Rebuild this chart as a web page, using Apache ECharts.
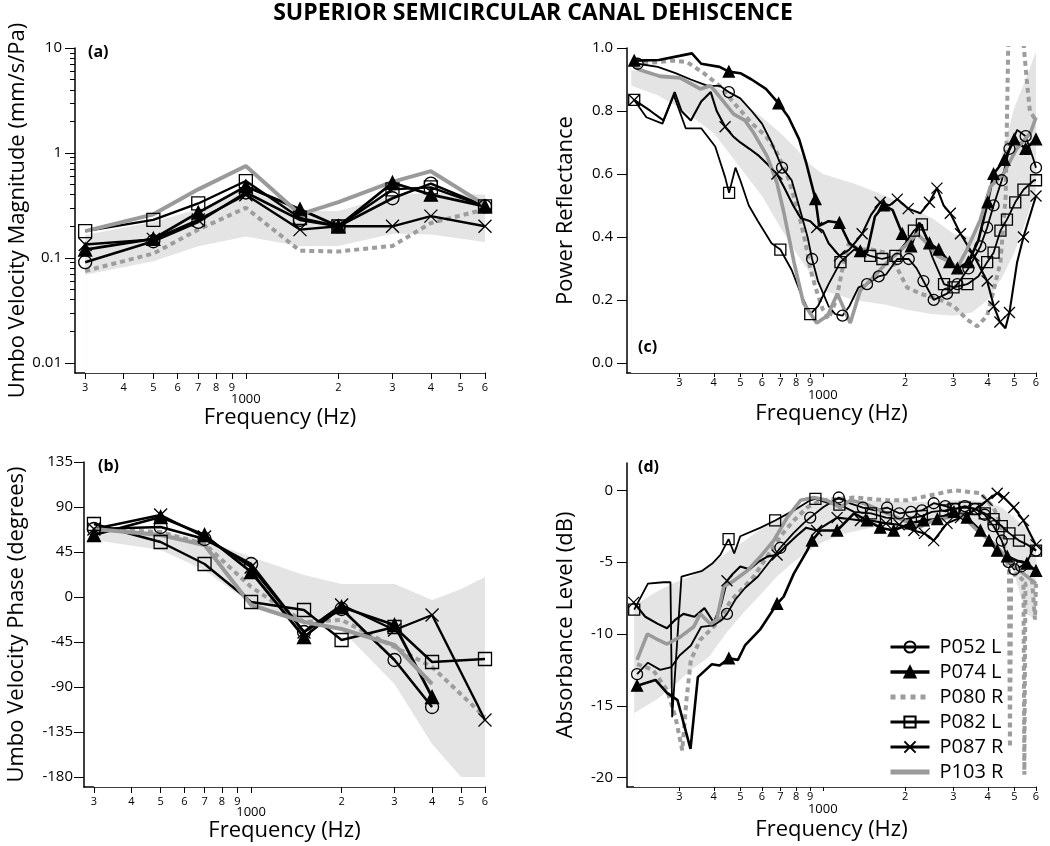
<!DOCTYPE html>
<html><head><meta charset="utf-8">
<script src="https://cdn.jsdelivr.net/npm/echarts@6/dist/echarts.min.js"></script>
<style>html,body{margin:0;padding:0;background:#fff}#c{width:1050px;height:846px}</style>
</head><body><div id="c"></div>
<script>
// ---------------- DATA ----------------
const seriesNames = ['P052 L','P074 L','P080 R','P082 L','P087 R','P103 R'];
const xTickFreqs = [300,400,500,600,700,800,900,1000,2000,3000,4000,5000,6000];

// (a) Umbo velocity magnitude (mm/s/Pa)
const freqAB = [300, 500, 700, 1000, 1500, 2000, 3000, 4000, 6000];
const magP052 = [0.091, 0.144, 0.22, 0.42, 0.23, 0.20, 0.37, 0.51, 0.31];
const magP074 = [0.12, 0.152, 0.27, 0.48, 0.29, 0.20, 0.52, 0.40, 0.31];
const magP080 = [0.075, 0.11, 0.186, 0.30, 0.117, 0.115, 0.13, 0.215, 0.29];
const magP082 = [0.18, 0.23, 0.33, 0.54, 0.24, 0.20, 0.45, 0.47, 0.31];
const magP087 = [0.134, 0.15, 0.23, 0.40, 0.186, 0.20, 0.20, 0.25, 0.20];
const magP103 = [0.18, 0.26, 0.45, 0.75, 0.26, 0.34, 0.53, 0.67, 0.32];
const magBandLow  = [0.069, 0.093, 0.129, 0.16, 0.129, 0.13, 0.17, 0.167, 0.142];
const magBandHigh = [0.165, 0.22, 0.29, 0.45, 0.28, 0.28, 0.39, 0.42, 0.40];

// (b) Umbo velocity phase (degrees)
const phP052 = [68, 70, 58, 33, -35, -12, -63, -110];
const phP074 = [62, 80, 62, 25, -40, -10, -28, -100];
const phP080 = [68, 65, 53, 10, -25, -23, -50, -70, -120];
const phP082 = [73, 55, 33, -5, -13, -43, -30, -65, -62];
const phP087 = [68, 82, 60, 30, -35, -8, -33, -18, -123];
const phP103 = [68, 62, 52, -8, -25, -32, -48, -87];
const phBandFreq = [300, 500, 700, 1000, 1500, 2000, 3000, 4000, 5000, 6000];
const phBandHigh = [68, 66, 57, 40, 22, 13, 13, -3, 8, 20];
const phBandLow  = [57, 47, 27, -7, -25, -33, -87, -147, -180, -180];

// (c) Power reflectance  [frequency Hz, value]
const rfP052 = [[211,0.95],[250,0.94],[290,0.92],[330,0.9],[380,0.88],[420,0.88],[454,0.86],[500,0.84],[550,0.8],[600,0.76],[650,0.7],[710,0.62],[770,0.58],[830,0.48],[880,0.4],[914,0.33],[960,0.26],[1050,0.18],[1110,0.155],[1180,0.15],[1250,0.18],[1350,0.24],[1450,0.25],[1600,0.275],[1700,0.28],[1870,0.33],[2060,0.33],[2200,0.3],[2330,0.26],[2540,0.2],[2840,0.22],[3100,0.25],[3400,0.3],[3760,0.37],[3980,0.43],[4200,0.5],[4500,0.58],[4800,0.68],[5120,0.74],[5500,0.72],[5880,0.645],[6000,0.62]];
const rfP074 = [[205,0.96],[252,0.962],[300,0.975],[333,0.983],[360,0.95],[420,0.94],[454,0.925],[500,0.92],[550,0.9],[620,0.87],[690,0.824],[750,0.78],[820,0.71],[870,0.635],[940,0.52],[970,0.435],[1050,0.45],[1150,0.445],[1250,0.38],[1370,0.355],[1450,0.35],[1550,0.465],[1670,0.5],[1800,0.485],[1950,0.41],[2100,0.37],[2250,0.445],[2450,0.38],[2650,0.36],[2900,0.32],[3100,0.3],[3400,0.32],[3700,0.39],[4000,0.51],[4200,0.6],[4600,0.645],[5000,0.71],[5500,0.68],[6000,0.71]];
const rfP080 = [[205,0.95],[250,0.955],[280,0.96],[320,0.955],[368,0.92],[420,0.88],[480,0.82],[552,0.76],[620,0.72],[672,0.676],[740,0.6],[817,0.475],[860,0.39],[900,0.3],[940,0.24],[1000,0.17],[1050,0.14],[1120,0.2],[1180,0.3],[1244,0.38],[1350,0.36],[1500,0.36],[1700,0.35],[1870,0.3],[2030,0.24],[2270,0.22],[2690,0.2],[3010,0.18],[3370,0.137],[3660,0.116],[3980,0.15],[4200,0.23],[4450,0.32],[4650,0.53],[4750,1.0],[4850,1.15],[5300,1.15],[5420,1.0],[5550,0.9],[5700,0.8],[6000,0.77]];
const rfP082 = [[205,0.835],[227,0.78],[260,0.76],[286,0.85],[316,0.745],[360,0.745],[405,0.687],[440,0.59],[455,0.54],[480,0.62],[500,0.58],[537,0.5],[580,0.45],[650,0.38],[700,0.36],[770,0.295],[840,0.21],[900,0.155],[960,0.18],[1050,0.25],[1160,0.32],[1300,0.36],[1490,0.34],[1650,0.33],[1840,0.34],[2000,0.38],[2150,0.42],[2300,0.44],[2500,0.34],[2770,0.25],[3000,0.24],[3370,0.25],[3700,0.275],[3980,0.32],[4200,0.35],[4450,0.42],[4700,0.455],[5040,0.51],[5400,0.55],[5900,0.58],[6000,0.58]];
const rfP087 = [[205,0.835],[235,0.8],[262,0.77],[288,0.86],[305,0.8],[330,0.77],[360,0.83],[390,0.86],[410,0.8],[440,0.75],[470,0.72],[500,0.7],[540,0.68],[580,0.66],[630,0.63],[680,0.6],[720,0.56],[780,0.5],[830,0.46],[900,0.45],[950,0.43],[1000,0.42],[1050,0.38],[1150,0.34],[1250,0.36],[1392,0.41],[1500,0.47],[1620,0.51],[1750,0.5],[1870,0.52],[2050,0.49],[2270,0.475],[2450,0.51],[2610,0.555],[2760,0.5],[2920,0.475],[3180,0.41],[3560,0.34],[3980,0.26],[4210,0.18],[4430,0.13],[4640,0.11],[4800,0.16],[5120,0.32],[5400,0.4],[5900,0.51],[6000,0.53]];
const rfP103 = [[205,0.94],[216,0.93],[255,0.91],[302,0.905],[357,0.87],[389,0.88],[410,0.857],[473,0.79],[520,0.77],[560,0.73],[627,0.656],[681,0.57],[720,0.48],[785,0.32],[850,0.19],[950,0.127],[1040,0.15],[1130,0.22],[1260,0.127],[1370,0.23],[1540,0.275],[1720,0.32],[1990,0.37],[2210,0.41],[2400,0.38],[2620,0.34],[2930,0.32],[3090,0.3],[3360,0.36],[3760,0.455],[4090,0.56],[4560,0.6],[5100,0.68],[5720,0.73],[6000,0.78]];
const rfBandFreq = [200, 250, 300, 400, 500, 600, 700, 800, 900, 1000, 1300, 1700, 2000, 2500, 3000, 3500, 4000, 4500, 5000, 5500, 6000];
const rfBandHigh = [0.93, 0.92, 0.91, 0.88, 0.835, 0.78, 0.73, 0.68, 0.63, 0.60, 0.57, 0.53, 0.50, 0.46, 0.41, 0.40, 0.52, 0.66, 0.81, 0.90, 0.99];
const rfBandLow  = [0.88, 0.85, 0.81, 0.73, 0.62, 0.53, 0.43, 0.35, 0.285, 0.23, 0.20, 0.185, 0.17, 0.155, 0.15, 0.16, 0.20, 0.27, 0.35, 0.45, 0.55];

// (d) Absorbance level (dB)  [frequency Hz, value]
const abP052 = [[210,-12.8],[230,-12.0],[255,-12.5],[280,-12.3],[300,-11.5],[330,-10.8],[360,-9.5],[400,-9.4],[430,-9.0],[447,-8.6],[480,-7.6],[520,-6.8],[580,-6.0],[650,-4.8],[700,-4.0],[780,-3.0],[850,-2.3],[900,-1.9],[1000,-1.2],[1144,-0.5],[1250,-0.9],[1400,-1.2],[1550,-1.4],[1717,-1.2],[1900,-1.6],[2100,-1.5],[2300,-1.4],[2540,-0.9],[2800,-1.1],[3050,-1.3],[3300,-1.1],[3600,-1.3],[3900,-1.7],[4200,-2.5],[4500,-3.5],[4770,-5.0],[5000,-5.5],[5300,-5.3],[5600,-4.9],[5880,-4.0],[6000,-4.2]];
const abP074 = [[210,-13.6],[245,-13.2],[270,-14.1],[295,-14.6],[329,-18.0],[350,-13.0],[394,-12.1],[420,-12.2],[454,-11.7],[490,-11.8],[520,-10.8],[590,-9.7],[681,-7.9],[720,-7.4],[784,-5.8],[877,-4.2],[914,-3.5],[980,-2.8],[1128,-2.8],[1300,-1.6],[1450,-2.1],[1620,-2.6],[1815,-2.8],[2090,-2.3],[2330,-2.1],[2620,-2.0],[3010,-1.5],[3360,-1.9],[3760,-2.8],[4040,-3.5],[4330,-4.2],[4710,-4.6],[5120,-4.9],[5560,-5.1],[6000,-5.6]];
const abP080 = [[210,-12.1],[240,-12.5],[270,-13.9],[290,-15.8],[307,-18.1],[318,-14.6],[330,-11.8],[357,-10.4],[390,-9.7],[423,-9.0],[460,-7.7],[500,-7.0],[560,-6.0],[627,-4.6],[700,-3.2],[784,-2.1],[877,-1.2],[980,-0.7],[1300,-0.5],[1720,-0.7],[2030,-0.7],[2270,-0.5],[3010,0.0],[3760,-0.2],[4200,-1.2],[4450,-2.3],[4650,-4.5],[4780,-5.6],[4820,-17.9],[4870,-6.0],[5100,-5.8],[5400,-6.3],[5440,-19.8],[5490,-6.5],[5800,-6.3],[5950,-9.0],[6000,-6.5]];
const abP082 = [[205,-8.3],[230,-6.5],[262,-6.4],[278,-6.4],[282,-15.8],[305,-6.0],[363,-5.6],[395,-5.1],[423,-4.5],[453,-3.4],[475,-4.4],[500,-3.2],[593,-2.6],[670,-2.1],[784,-1.4],[900,-0.7],[940,-0.6],[1050,-0.9],[1150,-1.0],[1300,-1.5],[1500,-1.6],[1700,-1.9],[2000,-2.0],[2300,-1.8],[2500,-1.5],[2800,-1.4],[3000,-1.3],[3300,-1.2],[3600,-1.3],[3900,-1.6],[4200,-2.0],[4500,-2.5],[4800,-3.0],[5200,-3.5],[5600,-3.8],[6000,-4.2]];
const abP087 = [[204,-7.8],[225,-8.8],[250,-9.3],[270,-9.6],[290,-9.0],[310,-8.6],[340,-8.8],[370,-8.2],[400,-9.2],[425,-8.0],[447,-6.3],[470,-5.8],[500,-5.3],[540,-5.5],[580,-5.0],[630,-4.6],[681,-4.5],[740,-3.8],[800,-3.2],[870,-2.6],[950,-2.8],[1128,-1.9],[1250,-2.0],[1372,-2.1],[1500,-2.1],[1700,-2.3],[1900,-2.4],[2150,-2.8],[2350,-3.0],[2540,-3.5],[2840,-2.3],[3180,-1.9],[3560,-1.4],[3980,-0.7],[4330,-0.2],[4580,-0.5],[4980,-1.2],[5400,-2.1],[5880,-3.5],[6000,-3.8]];
const abP103 = [[210,-11.8],[229,-10.0],[250,-10.4],[270,-10.7],[302,-10.2],[338,-9.5],[357,-8.6],[389,-9.3],[410,-9.0],[435,-6.7],[473,-6.3],[530,-5.6],[593,-4.6],[662,-3.5],[741,-1.9],[830,-0.7],[927,-0.5],[1037,-0.7],[1160,-1.2],[1260,-0.7],[1410,-0.9],[1620,-1.4],[1870,-1.9],[2090,-2.3],[2270,-2.55],[2540,-2.1],[2850,-1.9],[3090,-1.6],[3360,-2.1],[3760,-3.0],[4090,-3.5],[4450,-4.2],[5000,-5.3],[5400,-5.8],[6000,-6.5]];
const abBandFreq = [205, 250, 290, 330, 384, 450, 520, 584, 680, 780, 890, 1000, 1200, 1500, 2000, 2500, 3000, 3500, 4000, 4500, 5000, 5500, 6000];
const abBandHigh = [-8.0, -7.0, -6.4, -6.0, -5.3, -4.3, -3.5, -2.8, -2.1, -1.5, -0.9, -0.8, -0.7, -0.7, -0.8, -0.8, -0.7, -0.7, -0.8, -1.2, -1.9, -2.6, -3.5];
const abBandLow  = [-15.5, -14.5, -13.5, -12.5, -11.6, -9.8, -8.4, -7.4, -6.0, -5.0, -4.2, -3.6, -3.0, -2.6, -2.4, -2.3, -2.1, -2.3, -3.0, -4.0, -5.8, -8.6, -9.0];

// ---------------- BUILD ----------------
const FONT = '"Open Sans", "DejaVu Sans", sans-serif';
const L10 = Math.log10;
const BAND = '#e4e4e4';
const CLEAR = 'rgba(255,255,255,0)';

const styles = {
  'P052 L': {color:'#000', symbol:'circle', fill:CLEAR, marks:true, legendW:3},
  'P074 L': {color:'#000', symbol:'triangle', fill:'#000', marks:true, legendW:3.5},
  'P080 R': {color:'#9d9d9d', symbol:'circle', fill:CLEAR, border:CLEAR, dash:[5,4], marks:false, legendW:5, legendDash:[5,5]},
  'P082 L': {color:'#000', symbol:'rect', fill:CLEAR, marks:true, legendW:3},
  'P087 R': {color:'#000', symbol:'path://M0 0L20 20M20 0L0 20', fill:CLEAR, marks:true, legendW:3},
  'P103 R': {color:'#9a9a9a', symbol:'circle', fill:CLEAR, border:CLEAR, marks:false, legendW:5}
};
const widthAB = {'P052 L':2.6,'P074 L':2.8,'P080 R':4,'P082 L':2.4,'P087 R':2.4,'P103 R':4};
const widthCD = {'P052 L':1.8,'P074 L':2.6,'P080 R':4,'P082 L':1.8,'P087 R':2.1,'P103 R':3.6};
const drawOrder = ['P080 R','P087 R','P082 L','P052 L','P074 L','P103 R'];

function markFlags(freqs) {
  const flags = freqs.map(() => false);
  for (let g = 210; g <= 6100; g += 240) {
    let best = -1, bd = 1e9;
    freqs.forEach((f, i) => { const d = Math.abs(f - g); if (d < bd) { bd = d; best = i; } });
    if (best >= 0 && bd < 110) flags[best] = true;
  }
  return flags;
}

function mkLine(name, xi, yi, pts, flags, size, widths) {
  const st = styles[name];
  return {
    type:'line', name, xAxisIndex:xi, yAxisIndex:yi, z:3,
    data: pts.map((p, i) => (st.marks && flags[i]) ? {value:p} : {value:p, symbol:'none'}),
    symbol: st.symbol, symbolSize: size, showSymbol: true,
    itemStyle: {color: st.fill, borderColor: st.border || st.color, borderWidth: 1.3},
    lineStyle: {color: st.color, width: widths[name], type: st.dash || 'solid'},
    emphasis: {disabled:true}, clip: true, animation:false
  };
}
function mkBand(xi, yi, freqs, low, high, ylog) {
  const tx = v => ylog ? L10(v) : v;
  const base = {type:'line', xAxisIndex:xi, yAxisIndex:yi, symbol:'none', silent:true, z:1,
    lineStyle:{width:0, opacity:0}, emphasis:{disabled:true}, animation:false, legendHoverLink:false};
  return [
    Object.assign({}, base, {name:'_bh'+xi, data:freqs.map((f,i)=>[L10(f), tx(high[i])]), areaStyle:{color:BAND, opacity:1, origin:'start'}}),
    Object.assign({}, base, {name:'_bl'+xi, data:freqs.map((f,i)=>[L10(f), tx(low[i])]), areaStyle:{color:'#ffffff', opacity:1, origin:'start'}})
  ];
}

const magData = {'P052 L':magP052,'P074 L':magP074,'P080 R':magP080,'P082 L':magP082,'P087 R':magP087,'P103 R':magP103};
const phData  = {'P052 L':phP052,'P074 L':phP074,'P080 R':phP080,'P082 L':phP082,'P087 R':phP087,'P103 R':phP103};
const rfData  = {'P052 L':rfP052,'P074 L':rfP074,'P080 R':rfP080,'P082 L':rfP082,'P087 R':rfP087,'P103 R':rfP103};
const abData  = {'P052 L':abP052,'P074 L':abP074,'P080 R':abP080,'P082 L':abP082,'P087 R':abP087,'P103 R':abP103};

const series = [];
series.push(...mkBand(0, 0, freqAB, magBandLow, magBandHigh, true));
series.push(...mkBand(1, 2, phBandFreq, phBandLow, phBandHigh, false));
series.push(...mkBand(2, 3, rfBandFreq, rfBandLow, rfBandHigh, false));
series.push(...mkBand(3, 4, abBandFreq, abBandLow, abBandHigh, false));
drawOrder.forEach(n => {
  const m = magData[n];
  series.push(mkLine(n, 0, 0, m.map((v,i)=>[L10(freqAB[i]), L10(v)]), m.map(()=>true), 13, widthAB));
  const p = phData[n];
  series.push(mkLine(n, 1, 2, p.map((v,i)=>[L10(freqAB[i]), v]), p.map(()=>true), 13, widthAB));
  const r = rfData[n];
  series.push(mkLine(n, 2, 3, r.map(d=>[L10(d[0]), d[1]]), markFlags(r.map(d=>d[0])), 11, widthCD));
  const a = abData[n];
  series.push(mkLine(n, 3, 4, a.map(d=>[L10(d[0]), d[1]]), markFlags(a.map(d=>d[0])), 11, widthCD));
});

function fmtFreq(v) {
  const n = Math.round(Math.pow(10, v));
  if (n === 1000) return '{k|1000}';
  const d = Math.round(n / Math.pow(10, Math.floor(Math.log10(n) + 1e-9)));
  return '{d|' + d + '}';
}
const xVals = xTickFreqs.map(L10);
function mkX(gi, min, max, margin, tickLen, padK, nameGap) {
  return {
    type:'value', gridIndex:gi, min, max,
    name:'Frequency (Hz)', nameLocation:'middle', nameGap,
    nameTextStyle:{fontSize:22, fontFamily:FONT, color:'#000'},
    axisLine:{show:true, onZero:false, lineStyle:{color:'#000', width:1.5}},
    axisTick:{show:true, customValues:xVals, length:tickLen, lineStyle:{color:'#000', width:1}},
    axisLabel:{show:true, customValues:xVals, margin, color:'#000', fontFamily:FONT, formatter:fmtFreq,
      rich:{d:{fontSize:11, fontFamily:FONT, color:'#000'}, k:{fontSize:13, fontFamily:FONT, color:'#000', padding:[padK,0,0,0]}}},
    splitLine:{show:false}
  };
}
function mkY(gi, min, max, vals, fmt, name, nameGap, margin) {
  return {
    type:'value', gridIndex:gi, min, max, position:'left',
    name, nameLocation:'middle', nameGap,
    nameTextStyle:{fontSize:22, fontFamily:FONT, color:'#000'},
    axisLine:{show:true, onZero:false, lineStyle:{color:'#000', width:1.5}},
    axisTick:{show:true, customValues:vals, length:10, lineStyle:{color:'#000', width:1}},
    axisLabel:{show:true, customValues:vals, margin, formatter:fmt, fontSize:15, fontFamily:FONT, color:'#000'},
    splitLine:{show:false}
  };
}
const magMinor = [];
[-2,-1,0].forEach(k => { for (let m = 2; m <= 9; m++) magMinor.push(L10(m * Math.pow(10, k))); });
const magLabels = {'-2':'0.01','-1':'0.1','0':'1','1':'10'};

const option = {
  animation:false,
  backgroundColor:'#fff',
  grid:[
    {left:75, top:48, width:410, height:325, outerBoundsMode:'none'},
    {left:84, top:462, width:401, height:325, outerBoundsMode:'none'},
    {left:627, top:48, width:409, height:325, outerBoundsMode:'none'},
    {left:627, top:463, width:409, height:324, outerBoundsMode:'none'}
  ],
  xAxis:[
    mkX(0, L10(278), L10(6000), 9, 6, 11, 30),
    mkX(1, L10(278), L10(6000), 9, 6, 10, 32),
    mkX(2, L10(6000) - 409/274, L10(6000), 4, 4, 12, 30),
    mkX(3, L10(6000) - 409/274, L10(6000), 4, 4, 12, 32)
  ],
  yAxis:[
    mkY(0, L10(0.008), 1, [-2,-1,0,1], v => magLabels[String(Math.round(v))], 'Umbo Velocity Magnitude (mm/s/Pa)', 45, 13),
    {type:'value', gridIndex:0, min:L10(0.008), max:1, position:'left', offset:0,
      axisLine:{show:false}, axisLabel:{show:false}, splitLine:{show:false},
      axisTick:{show:true, customValues:magMinor, length:5, lineStyle:{color:'#000', width:1}}},
    mkY(1, -190, 135, [-180,-135,-90,-45,0,45,90,135], v => String(v), 'Umbo Velocity Phase (degrees)', 56, 11),
    mkY(2, -0.032, 1.0, [0,0.2,0.4,0.6,0.8,1.0], v => v.toFixed(1), 'Power Reflectance', 50, 14),
    mkY(3, -20.65, 1.9, [-20,-15,-10,-5,0], v => String(v), 'Absorbance Level (dB)', 50, 14)
  ],
  legend:{
    data: seriesNames.map(n => ({name:n, lineStyle:{width:styles[n].legendW, type:styles[n].legendDash || 'solid'}})),
    orient:'vertical', left:888, top:637, padding:0,
    itemWidth:39, itemHeight:14, itemGap:5,
    textStyle:{fontSize:20, fontFamily:FONT, color:'#000', padding:[0,0,0,5]},
    selectedMode:false
  },
  graphic:[
    {type:'text', x:533, y:2, z:100, style:{text:'SUPERIOR SEMICIRCULAR CANAL DEHISCENCE', font:'bold 23px "Open Sans"', textAlign:'center', fill:'#000'}},
    {type:'text', x:88, y:44, z:100, style:{text:'(a)', font:'bold 16px "Open Sans"', fill:'#000'}},
    {type:'text', x:98, y:458, z:100, style:{text:'(b)', font:'bold 16px "Open Sans"', fill:'#000'}},
    {type:'text', x:638, y:339, z:100, style:{text:'(c)', font:'bold 16px "Open Sans"', fill:'#000'}},
    {type:'text', x:638, y:459, z:100, style:{text:'(d)', font:'bold 16px "Open Sans"', fill:'#000'}}
  ],
  series
};
const chart = echarts.init(document.getElementById('c'), null, {renderer:'canvas', width:1050, height:846});
chart.setOption(option);
</script></body></html>
